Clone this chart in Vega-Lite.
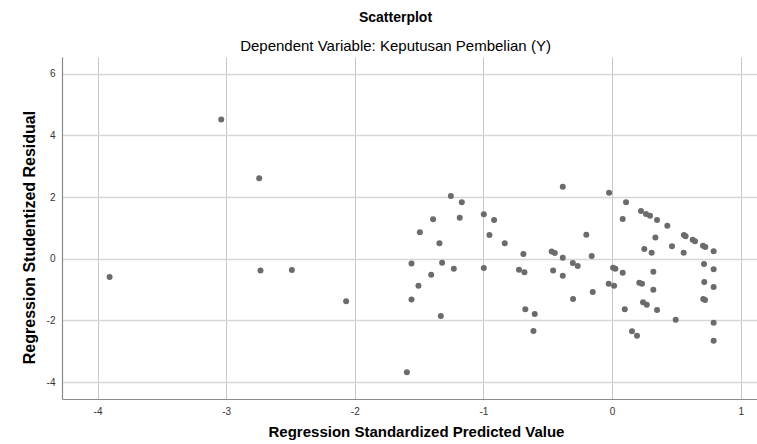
{
  "$schema": "https://vega.github.io/schema/vega-lite/v6.json",
  "autosize": "none",
  "width": 695,
  "height": 342,
  "padding": {"left": 62, "top": 57, "right": 0, "bottom": 45},
  "background": "white",
  "config": {
    "view": {"stroke": null},
    "font": "Liberation Sans"
  },
  "title": {
    "text": "Scatterplot",
    "subtitle": "Dependent Variable: Keputusan Pembelian (Y)",
    "anchor": "middle",
    "frame": "group",
    "dx": -14,
    "font": "Liberation Sans",
    "fontSize": 14,
    "fontWeight": "bold",
    "color": "#000000",
    "subtitleFont": "Liberation Sans",
    "subtitleFontSize": 15,
    "subtitleColor": "#000000",
    "subtitlePadding": 14,
    "offset": 3
  },
  "data": {
    "values": [
      {"pred": -3.038, "resid": 4.51},
      {"pred": -2.743, "resid": 2.61},
      {"pred": -3.906, "resid": -0.59},
      {"pred": -2.733, "resid": -0.38},
      {"pred": -2.489, "resid": -0.37},
      {"pred": -2.067, "resid": -1.38},
      {"pred": -0.383, "resid": 2.335},
      {"pred": -1.253, "resid": 2.03},
      {"pred": -1.168, "resid": 1.83},
      {"pred": -1.391, "resid": 1.28},
      {"pred": -1.184, "resid": 1.33},
      {"pred": -0.997, "resid": 1.44},
      {"pred": -0.917, "resid": 1.255},
      {"pred": -1.494, "resid": 0.855},
      {"pred": -0.953, "resid": 0.77},
      {"pred": -1.342, "resid": 0.5},
      {"pred": -0.834, "resid": 0.5},
      {"pred": -0.689, "resid": 0.15},
      {"pred": -0.469, "resid": 0.23},
      {"pred": -0.445, "resid": 0.185},
      {"pred": -0.383, "resid": 0.03},
      {"pred": -1.559, "resid": -0.16},
      {"pred": -1.321, "resid": -0.13},
      {"pred": -1.23, "resid": -0.33},
      {"pred": -0.997, "resid": -0.3},
      {"pred": -0.723, "resid": -0.36},
      {"pred": -0.681, "resid": -0.44},
      {"pred": -0.458, "resid": -0.38},
      {"pred": -0.383, "resid": -0.55},
      {"pred": -1.406, "resid": -0.52},
      {"pred": -1.505, "resid": -0.875},
      {"pred": -1.559, "resid": -1.32},
      {"pred": -1.331, "resid": -1.86},
      {"pred": -0.674, "resid": -1.64},
      {"pred": -0.601, "resid": -1.79},
      {"pred": -0.611, "resid": -2.345},
      {"pred": -1.595, "resid": -3.685},
      {"pred": -0.023, "resid": 2.14},
      {"pred": 0.109, "resid": 1.83},
      {"pred": 0.083, "resid": 1.29},
      {"pred": 0.225, "resid": 1.55},
      {"pred": 0.264, "resid": 1.45},
      {"pred": 0.295, "resid": 1.395},
      {"pred": 0.35, "resid": 1.255},
      {"pred": 0.43, "resid": 1.07},
      {"pred": 0.337, "resid": 0.69},
      {"pred": 0.559, "resid": 0.77},
      {"pred": 0.572, "resid": 0.725},
      {"pred": 0.627, "resid": 0.61},
      {"pred": 0.645, "resid": 0.565},
      {"pred": 0.707, "resid": 0.42},
      {"pred": 0.725, "resid": 0.38},
      {"pred": 0.79, "resid": 0.24},
      {"pred": 0.466, "resid": 0.4},
      {"pred": 0.251, "resid": 0.315},
      {"pred": 0.308, "resid": 0.195},
      {"pred": 0.557, "resid": 0.195},
      {"pred": -0.2, "resid": 0.78},
      {"pred": -0.158, "resid": 0.09},
      {"pred": -0.305, "resid": -0.14},
      {"pred": -0.267, "resid": -0.24},
      {"pred": 0.008, "resid": -0.29},
      {"pred": 0.026, "resid": -0.33},
      {"pred": 0.083, "resid": -0.46},
      {"pred": 0.321, "resid": -0.42},
      {"pred": 0.715, "resid": -0.17},
      {"pred": 0.79, "resid": -0.34},
      {"pred": -0.026, "resid": -0.81},
      {"pred": 0.016, "resid": -0.875},
      {"pred": 0.212, "resid": -0.78},
      {"pred": 0.233, "resid": -0.81},
      {"pred": 0.321, "resid": -1.005},
      {"pred": 0.717, "resid": -0.755},
      {"pred": 0.79, "resid": -0.92},
      {"pred": -0.303, "resid": -1.31},
      {"pred": -0.15, "resid": -1.08},
      {"pred": 0.099, "resid": -1.64},
      {"pred": 0.241, "resid": -1.41},
      {"pred": 0.27, "resid": -1.49},
      {"pred": 0.35, "resid": -1.66},
      {"pred": 0.709, "resid": -1.31},
      {"pred": 0.723, "resid": -1.34},
      {"pred": 0.495, "resid": -1.98},
      {"pred": 0.79, "resid": -2.08},
      {"pred": 0.155, "resid": -2.355},
      {"pred": 0.194, "resid": -2.5},
      {"pred": 0.79, "resid": -2.66}
    ]
  },
  "mark": {"type": "circle", "size": 36, "color": "#6b6b6b", "opacity": 1},
  "encoding": {
    "x": {
      "field": "pred",
      "type": "quantitative",
      "scale": {"domain": [-4.276, 1.127], "nice": false, "zero": false},
      "axis": {
        "title": "Regression Standardized Predicted Value",
        "values": [-4, -3, -2, -1, 0, 1],
        "labelExpr": "datum.value + ''",
        "grid": true,
        "gridColor": "#c6c6c6",
        "gridWidth": 1,
        "domainColor": "#8a8a8a",
        "domainWidth": 1.2,
        "ticks": false,
        "labelFont": "Liberation Sans",
        "labelFontSize": 10,
        "labelColor": "#333333",
        "labelPadding": 7,
        "titleFont": "Liberation Sans",
        "titleFontSize": 15,
        "titleFontWeight": "bold",
        "titleColor": "#000000",
        "titleX": 354,
        "titleY": 32,
        "titleAlign": "center",
        "titleBaseline": "middle"
      }
    },
    "y": {
      "field": "resid",
      "type": "quantitative",
      "scale": {"domain": [-4.55, 6.54], "nice": false, "zero": false},
      "axis": {
        "title": "Regression Studentized Residual",
        "values": [-4, -2, 0, 2, 4, 6],
        "labelExpr": "datum.value + ''",
        "grid": true,
        "gridColor": "#d6d6d6",
        "gridWidth": 1.3,
        "domainColor": "#8a8a8a",
        "domainWidth": 1.2,
        "ticks": false,
        "labelFont": "Liberation Sans",
        "labelFontSize": 10,
        "labelColor": "#333333",
        "labelPadding": 7,
        "titleFont": "Liberation Sans",
        "titleFontSize": 16,
        "titleFontWeight": "bold",
        "titleColor": "#000000",
        "titleAngle": -90,
        "titleX": -33,
        "titleY": 180,
        "titleAlign": "center",
        "titleBaseline": "middle"
      }
    }
  }
}
